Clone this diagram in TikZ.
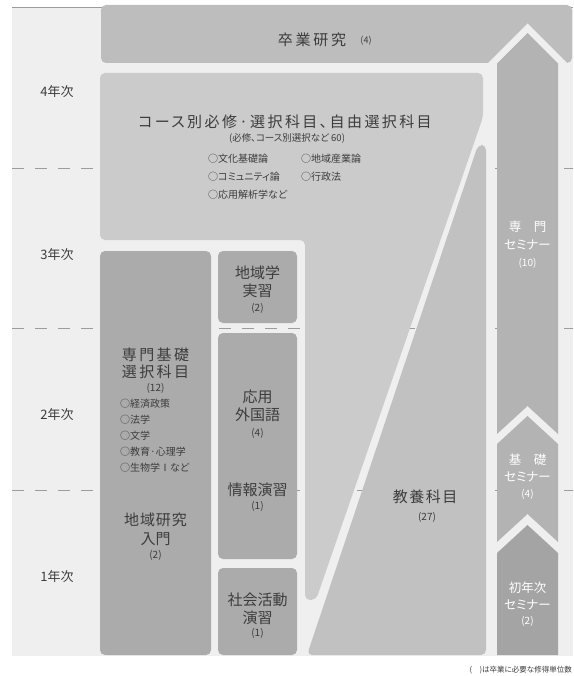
\documentclass[tikz,border=0pt]{standalone}
\usepackage{fontspec}
\setmainfont{Noto Sans CJK JP}[RawFeature=+palt]
\definecolor{bgc}{HTML}{EFEFEF}
\definecolor{banc}{HTML}{BDBDBD}
\definecolor{lightc}{HTML}{CBCBCB}
\definecolor{medc}{HTML}{C1C1C1}
\definecolor{darkc}{HTML}{ABABAB}
\definecolor{arrc}{HTML}{B3B3B3}
\definecolor{arrdc}{HTML}{A4A4A4}
\definecolor{txtc}{HTML}{3C3C3C}
\definecolor{linec}{HTML}{9C9C9C}
\newcommand\myfs[1]{\fontsize{#1}{#1}\selectfont}
\newcommand\myspaced[1]{\addfontfeature{LetterSpace=#1}}
\tikzset{
  txt/.style={text=txtc, inner sep=0pt},
  wtxt/.style={text=white, inner sep=0pt},
  dashl/.style={draw=linec, line width=0.8pt, dash pattern=on 12pt off 11pt},
  boxr/.style={rounded corners=5pt},
}
\begin{document}
\begin{tikzpicture}[x=1pt,y=-1pt]
\useasboundingbox (0,0) rectangle (573,676);
% background
\fill[bgc] (12,7) rectangle (573,656);
\draw[linec, line width=0.8pt] (12,7) -- (573,7);
% dashed year separators
\draw[dashl] (12,168) -- (573,168);
\draw[dashl] (12,328) -- (573,328);
\draw[dashl] (12,490) -- (573,490);
% banner
\fill[banc, boxr] (101,5) rectangle (572,63);
\fill[bgc] (487,64) -- (527.5,23.5) -- (568,64) -- cycle;
% 4th-year light region
\fill[lightc, boxr] (100,73) -- (483,73) -- (483,117) -- (316,600) -- (305,600) -- (305,240) -- (100,240) -- cycle;
% general education region
\fill[medc, boxr] (478,145) -- (486,145) -- (486,655) -- (307,655) -- cycle;
% left boxes
\fill[darkc, boxr] (100,251) rectangle (211,655);
\fill[darkc, boxr] (218,251) rectangle (297,323);
\fill[darkc, boxr] (218,333) rectangle (297,559);
\fill[darkc, boxr] (218,568) rectangle (297,655);
% seminar arrows
\fill[arrc] (497,63.5) -- (527.5,33) -- (558,63.5) -- (558,434) -- (527.5,406) -- (497,434) -- cycle;
\fill[arrc] (497,444) -- (527.5,416) -- (558,444) -- (558,542) -- (527.5,514) -- (497,542) -- cycle;
\fill[arrdc] (497,553) -- (527.5,525) -- (558,553) -- (558,655) -- (497,655) -- cycle;

% texts
\node[txt, font=\myfs{15}\myspaced{18}] (sotsu) at (312,40) {卒業研究};
\node[txt, font=\myfs{9}] (sotsun) at (366,41) {(4)};

\node[txt, font=\myfs{13}] (y4) at (57,92) {4年次};
\node[txt, font=\myfs{13}] (y3) at (57,255) {3年次};
\node[txt, font=\myfs{13}] (y2) at (57,415) {2年次};
\node[txt, font=\myfs{13}] (y1) at (57,577) {1年次};

\node[txt, font=\myfs{15}\myspaced{16}] (course) at (285,122) {コース別必修·選択科目、自由選択科目};
\node[txt, font=\myfs{9.5}] (coursen) at (287,138) {(必修、コース別選択など 60)};
\node[txt, font=\myfs{10}, anchor=west] (c1) at (208,159) {○文化基礎論};
\node[txt, font=\myfs{10}, anchor=west] (c2) at (301,159) {○地域産業論};
\node[txt, font=\myfs{10}, anchor=west] (c3) at (208,177) {○コミュニティ論};
\node[txt, font=\myfs{10}, anchor=west] (c4) at (301,177) {○行政法};
\node[txt, font=\myfs{10}, anchor=west] (c5) at (208,195) {○応用解析学など};

\node[txt, font=\myfs{15}\myspaced{16}] (sk1) at (155.5,355) {専門基礎};
\node[txt, font=\myfs{15}\myspaced{16}] (sk2) at (155.5,372) {選択科目};
\node[txt, font=\myfs{10}] (sk3) at (155.5,388) {(12)};
\node[txt, font=\myfs{10}, anchor=west] (s1) at (120,404) {○経済政策};
\node[txt, font=\myfs{10}, anchor=west] (s2) at (120,420) {○法学};
\node[txt, font=\myfs{10}, anchor=west] (s3) at (120,436) {○文学};
\node[txt, font=\myfs{10}, anchor=west] (s4) at (120,452) {○教育·心理学};
\node[txt, font=\myfs{10}, anchor=west] (s5) at (120,468) {○生物学Ⅰなど};
\node[txt, font=\myfs{15}\myspaced{6}] (ch1) at (155.5,520) {地域研究};
\node[txt, font=\myfs{15}] (ch2) at (155.5,539) {入門};
\node[txt, font=\myfs{10}] (ch3) at (155.5,555) {(2)};

\node[txt, font=\myfs{15}] (jg1) at (257.5,273) {地域学};
\node[txt, font=\myfs{15}] (jg2) at (257.5,291) {実習};
\node[txt, font=\myfs{10}] (jg3) at (257.5,308) {(2)};

\node[txt, font=\myfs{15}] (og1) at (257.5,397) {応用};
\node[txt, font=\myfs{15}] (og2) at (257.5,415) {外国語};
\node[txt, font=\myfs{10}] (og3) at (257.5,433) {(4)};
\node[txt, font=\myfs{15}] (jh1) at (257.5,490) {情報演習};
\node[txt, font=\myfs{10}] (jh2) at (257.5,506) {(1)};

\node[txt, font=\myfs{15}] (sa1) at (257.5,600) {社会活動};
\node[txt, font=\myfs{15}] (sa2) at (257.5,618) {演習};
\node[txt, font=\myfs{10}] (sa3) at (257.5,633) {(1)};

\node[txt, font=\myfs{15}\myspaced{10}] (ky1) at (425,497) {教養科目};
\node[txt, font=\myfs{10}] (ky2) at (427,517) {(27)};

\node[wtxt, font=\myfs{12.5}] (sm1) at (527.5,227) {専　門};
\node[wtxt, font=\myfs{12.5}] (sm2) at (527.5,245) {セミナー};
\node[wtxt, font=\myfs{10}] (sm3) at (527.5,263) {(10)};
\node[wtxt, font=\myfs{12.5}] (kb1) at (527.5,460) {基　礎};
\node[wtxt, font=\myfs{12.5}] (kb2) at (527.5,477) {セミナー};
\node[wtxt, font=\myfs{10}] (kb3) at (527.5,494) {(4)};
\node[wtxt, font=\myfs{12.5}] (sn1) at (527.5,588) {初年次};
\node[wtxt, font=\myfs{12.5}] (sn2) at (527.5,605) {セミナー};
\node[wtxt, font=\myfs{10}] (sn3) at (527.5,621) {(2)};

\node[txt, font=\myfs{7.5}, anchor=east] (note) at (572,670) {(　)は卒業に必要な修得単位数};
\end{tikzpicture}
\end{document}
